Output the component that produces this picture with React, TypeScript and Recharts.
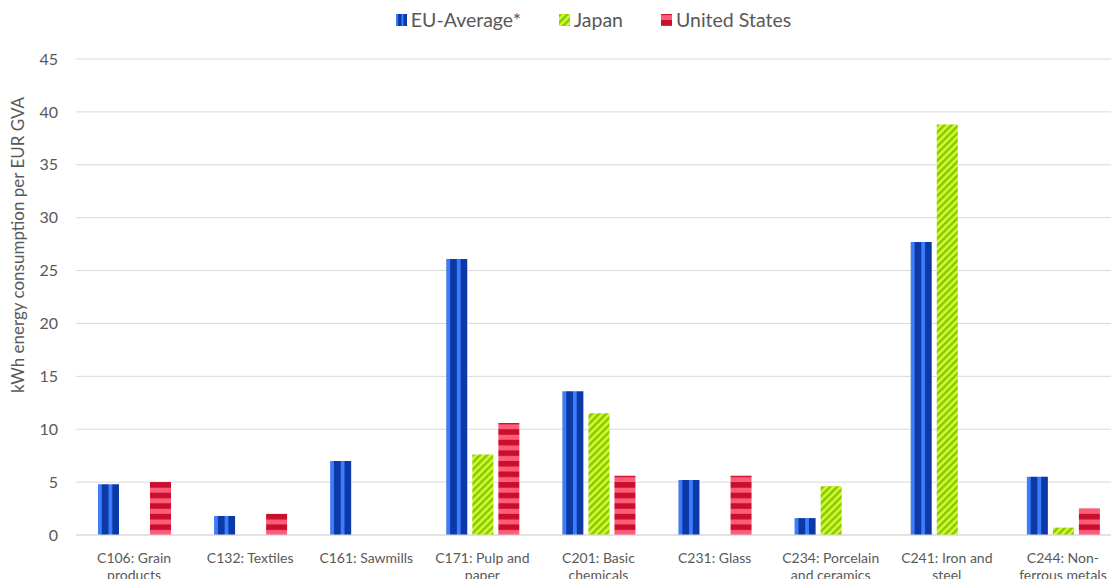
import React from 'react'
import { BarChart, Bar, XAxis, YAxis, CartesianGrid } from 'recharts'

const categories = [
  'C106: Grain\nproducts',
  'C132: Textiles',
  'C161: Sawmills',
  'C171: Pulp and\npaper',
  'C201: Basic\nchemicals',
  'C231: Glass',
  'C234: Porcelain\nand ceramics',
  'C241: Iron and\nsteel',
  'C244: Non-\nferrous metals',
]

const euAverage = [4.8, 1.8, 7.0, 26.1, 13.6, 5.2, 1.6, 27.7, 5.5]
const japan = [null, null, null, 7.6, 11.5, null, 4.6, 38.8, 0.7]
const unitedStates = [5.0, 2.0, null, 10.6, 5.6, 5.6, null, null, 2.5]

const yTicks = [0, 5, 10, 15, 20, 25, 30, 35, 40, 45]

const chartData = categories.map((name, i) => ({
  name,
  eu: euAverage[i],
  jp: japan[i],
  us: unitedStates[i],
}))

const TEXT = '#595959'
const FONT = 'Lato, "Open Sans", sans-serif'

const Patterns = ({ prefix }: { prefix: string }) => (
  <defs>
    <pattern id={`${prefix}eu`} patternUnits="objectBoundingBox" width="0.5" height="1" patternContentUnits="objectBoundingBox">
      <rect x="0" y="0" width="0.5" height="1" fill="#3d7cff" />
      <rect x="0.18" y="0" width="0.32" height="1" fill="#0b3aa6" />
    </pattern>
    <pattern id={`${prefix}jp`} patternUnits="userSpaceOnUse" width="5" height="5" patternTransform="rotate(45)">
      <rect x="0" y="0" width="5" height="5" fill="#ccff33" />
      <rect x="0" y="0" width="2.5" height="5" fill="#8fc400" />
    </pattern>
    <pattern id={`${prefix}us`} patternUnits="userSpaceOnUse" width="10" height="10.58" y="535">
      <rect x="0" y="0" width="10" height="10.58" fill="#ff5c7a" />
      <rect x="0" y="0" width="10" height="5.6" fill="#c8102e" />
    </pattern>
  </defs>
)

const CategoryTick = ({ x, y, payload }: any) => {
  const lines = String(payload.value).split('\n')
  return (
    <g>
      {lines.map((line, i) => (
        <text key={i} x={x} y={y + 20 + i * 17} textAnchor="middle" fill={TEXT} fontSize={14} fontFamily={FONT}>
          {line}
        </text>
      ))}
    </g>
  )
}

const legendItems = [
  { key: 'eu', label: 'EU-Average*' },
  { key: 'jp', label: 'Japan' },
  { key: 'us', label: 'United States' },
]

const ChartLegend = () => (
  <div
    style={{
      position: 'absolute',
      top: 8,
      left: 0,
      width: 1187,
      display: 'flex',
      justifyContent: 'center',
      gap: 38,
      fontFamily: FONT,
      fontSize: 19.5,
      color: TEXT,
    }}
  >
    {legendItems.map((item) => (
      <div key={item.key} style={{ display: 'flex', alignItems: 'center', gap: 4 }}>
        <svg width={11} height={12}>
          <Patterns prefix="lg" />
          <rect x={0} y={0} width={11} height={12} fill={`url(#lg${item.key})`} />
        </svg>
        <span>{item.label}</span>
      </div>
    ))}
  </div>
)

export default function App() {
  return (
    <div style={{ position: 'absolute', left: 0, top: 0, width: 1111, height: 579, overflow: 'hidden', background: '#fff' }}>
      <ChartLegend />
      <BarChart
        width={1125}
        height={579}
        data={chartData}
        margin={{ top: 59, right: 4, bottom: 14, left: 0 }}
        barSize={21}
        barGap={5}
      >
        <Patterns prefix="ch" />
        <CartesianGrid vertical={false} stroke="#d9d9d9" />
        <XAxis
          dataKey="name"
          interval={0}
          tickLine={false}
          axisLine={{ stroke: '#d9d9d9' }}
          tick={<CategoryTick />}
          height={30}
        />
        <YAxis
          domain={[0, 45]}
          ticks={yTicks}
          width={76}
          axisLine={false}
          tickLine={false}
          tickSize={0}
          tickMargin={18}
          tick={{ fill: TEXT, fontSize: 16, fontFamily: FONT }}
          label={{
            content: () => (
              <text x={24} y={245} transform="rotate(-90 24 245)" textAnchor="middle" fill={TEXT} fontSize={17} fontFamily={FONT}>
                kWh energy consumption per EUR GVA
              </text>
            ),
          }}
        />
        <Bar dataKey="eu" fill="url(#cheu)" isAnimationActive={false} />
        <Bar dataKey="jp" fill="url(#chjp)" isAnimationActive={false} />
        <Bar dataKey="us" fill="url(#chus)" isAnimationActive={false} />
      </BarChart>
    </div>
  )
}
